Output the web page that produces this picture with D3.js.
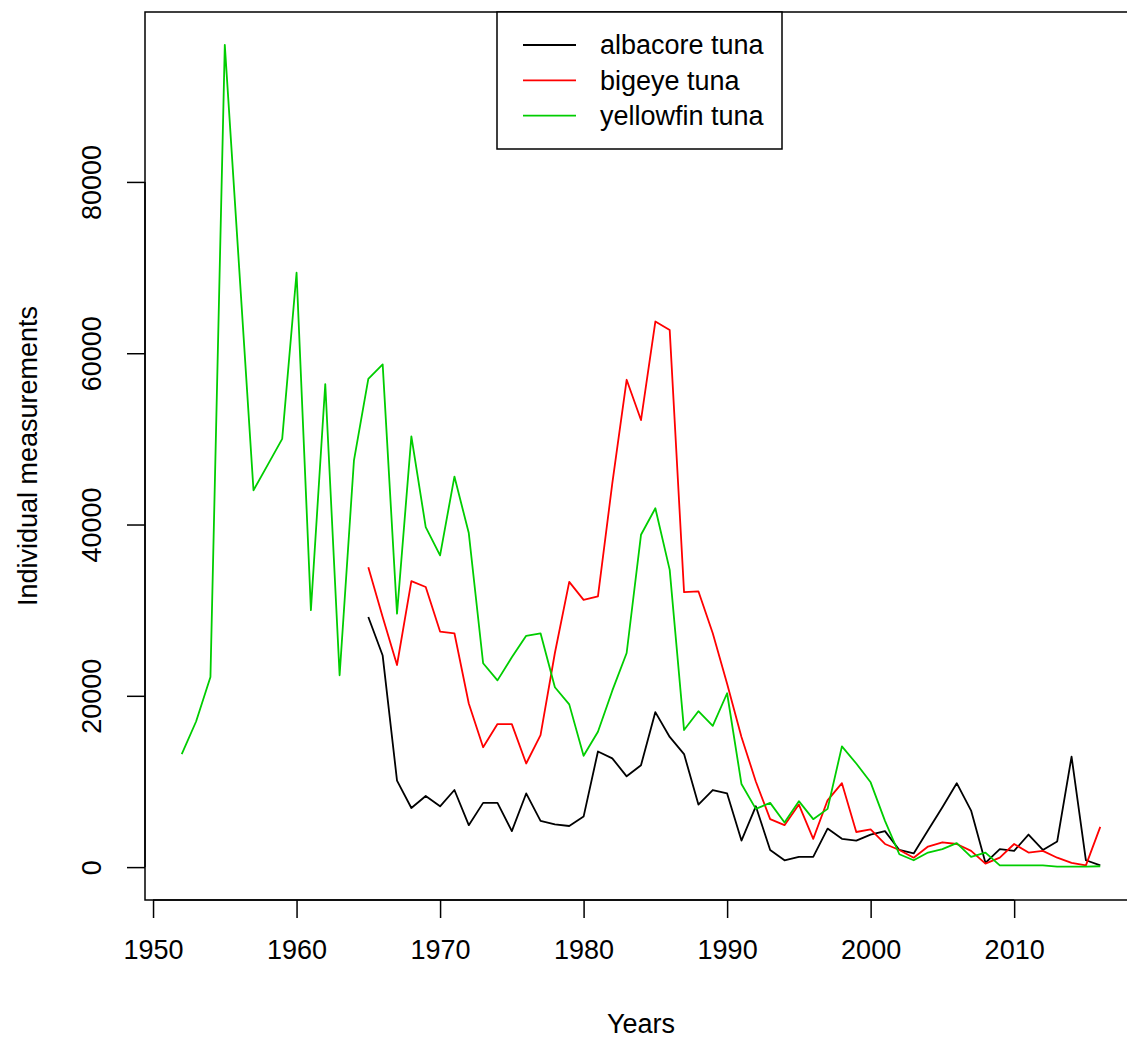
<!DOCTYPE html>
<html>
<head>
<meta charset="utf-8">
<script src="https://cdn.jsdelivr.net/npm/d3@7"></script>
<style>
  html, body { margin: 0; padding: 0; background: #fff; }
  svg { display: block; }
  text { font-family: "Liberation Sans", Arial, sans-serif; fill: #000; }
</style>
</head>
<body>
<div id="chart"></div>
<script>
// Years covered by the measurement series
const years = [
  1952, 1953, 1954, 1955, 1956, 1957, 1958, 1959, 1960, 1961,
  1962, 1963, 1964, 1965, 1966, 1967, 1968, 1969, 1970, 1971,
  1972, 1973, 1974, 1975, 1976, 1977, 1978, 1979, 1980, 1981,
  1982, 1983, 1984, 1985, 1986, 1987, 1988, 1989, 1990, 1991,
  1992, 1993, 1994, 1995, 1996, 1997, 1998, 1999, 2000, 2001,
  2002, 2003, 2004, 2005, 2006, 2007, 2008, 2009, 2010, 2011,
  2012, 2013, 2014, 2015, 2016
];

// Individual measurements per species (null = no data that year)
const albacore = [
  null, null, null, null, null, null, null, null, null, null,
  null, null, null, 29200, 24700, 10100, 6900, 8300, 7100, 9000,
  4900, 7500, 7500, 4200, 8600, 5400, 5000, 4800, 5900, 13500,
  12700, 10600, 11900, 18100, 15200, 13200, 7300, 9000, 8600, 3100,
  7100, 2000, 800, 1200, 1200, 4500, 3300, 3100, 3800, 4200,
  2000, 1600, 4300, 7000, 9800, 6600, 500, 2100, 1900, 3800,
  2000, 3000, 12900, 800, 200
];

const bigeye = [
  null, null, null, null, null, null, null, null, null, null,
  null, null, null, 35000, 29200, 23600, 33400, 32700, 27500, 27300,
  19100, 14000, 16700, 16700, 12100, 15400, 25000, 33300, 31200, 31600,
  44800, 56900, 52200, 63700, 62700, 32100, 32200, 27300, 21400, 15200,
  10000, 5600, 4900, 7300, 3300, 7800, 9800, 4100, 4400, 2700,
  2000, 1100, 2400, 2900, 2700, 1900, 400, 1100, 2700, 1700,
  1900, 1100, 500, 200, 4700
];

const yellowfin = [
  13200, 17000, 22200, 96000, 70000, 44000, 47000, 50000, 69400, 30000,
  56400, 22400, 47500, 57000, 58700, 29600, 50300, 39700, 36400, 45600,
  39000, 23800, 21800, 24500, 27000, 27300, 21000, 19000, 13000, 15800,
  20600, 25000, 38800, 41900, 34700, 16000, 18200, 16500, 20300, 9700,
  6800, 7500, 5200, 7700, 5600, 6800, 14100, 12100, 9900, 5400,
  1500, 800, 1700, 2100, 2800, 1200, 1700, 200, 200, 200,
  200, 50, 50, 50, 100
];

const seriesNames = ["albacore tuna", "bigeye tuna", "yellowfin tuna"];
const seriesColors = ["#000000", "#ff0000", "#00cd00"];
const xTicks = [1950, 1960, 1970, 1980, 1990, 2000, 2010];
const yTicks = [0, 20000, 40000, 60000, 80000];

const series = [albacore, bigeye, yellowfin].map((vals, i) => ({
  name: seriesNames[i],
  color: seriesColors[i],
  points: years.map((y, j) => ({ year: y, value: vals[j] }))
}));

const W = 1127, H = 1038;
const plot = { left: 145, top: 12, right: 1137, bottom: 900 };

// Axis limits padded by 4% on both ends of the data range
const xMin = d3.min(years), xMax = d3.max(years);
const xPad = (xMax - xMin) * 0.04;
const allVals = [albacore, bigeye, yellowfin].flat().filter(v => v != null);
const yMin = 0, yMax = d3.max(allVals);
const yPad = (yMax - yMin) * 0.04;

const x = d3.scaleLinear().domain([xMin - xPad, xMax + xPad]).range([plot.left, plot.right]);
const y = d3.scaleLinear().domain([yMin - yPad, yMax + yPad]).range([plot.bottom, plot.top]);

const svg = d3.select("#chart").append("svg")
  .attr("width", W).attr("height", H);

const fontSize = 27;

// Series lines
const line = d3.line()
  .defined(d => d.value != null)
  .x(d => x(d.year))
  .y(d => y(d.value));

svg.append("g").selectAll("path")
  .data(series)
  .join("path")
  .attr("fill", "none")
  .attr("stroke", d => d.color)
  .attr("stroke-width", 1.8)
  .attr("stroke-linejoin", "round")
  .attr("d", d => line(d.points));

// X axis
const xAxis = svg.append("g")
  .attr("transform", `translate(0,${plot.bottom})`)
  .call(d3.axisBottom(x).tickValues(xTicks).tickFormat(d3.format("d")).tickSize(18).tickPadding(22));
xAxis.select(".domain")
  .attr("d", `M${x(xTicks[0])},0H${x(xTicks[xTicks.length - 1])}`)
  .attr("stroke-width", 1.5);
xAxis.selectAll(".tick line").attr("stroke-width", 1.5);
xAxis.selectAll(".tick text")
  .attr("font-size", fontSize)
  .attr("font-family", "Liberation Sans, Arial, sans-serif")
  .attr("fill", "#000");

// Y axis with labels turned parallel to the axis
const yAxis = svg.append("g")
  .attr("transform", `translate(${plot.left},0)`)
  .call(d3.axisLeft(y).tickValues(yTicks).tickFormat(d3.format("d")).tickSize(18));
yAxis.select(".domain")
  .attr("d", `M0,${y(yTicks[0])}V${y(yTicks[yTicks.length - 1])}`)
  .attr("stroke-width", 1.5);
yAxis.selectAll(".tick line").attr("stroke-width", 1.5);
yAxis.selectAll(".tick text")
  .attr("font-size", fontSize)
  .attr("font-family", "Liberation Sans, Arial, sans-serif")
  .attr("fill", "#000")
  .attr("x", null).attr("dy", null)
  .attr("text-anchor", "middle")
  .attr("transform", "translate(-44,0) rotate(-90)");

// Plot frame
svg.append("rect")
  .attr("x", plot.left).attr("y", plot.top)
  .attr("width", plot.right - plot.left).attr("height", plot.bottom - plot.top)
  .attr("fill", "none").attr("stroke", "#000").attr("stroke-width", 1.5);

// Axis titles
svg.append("text")
  .attr("x", (plot.left + plot.right) / 2).attr("y", 1033)
  .attr("text-anchor", "middle").attr("font-size", fontSize)
  .text("Years");

svg.append("text")
  .attr("transform", `translate(37,${(plot.top + plot.bottom) / 2}) rotate(-90)`)
  .attr("text-anchor", "middle").attr("font-size", fontSize)
  .text("Individual measurements");

// Legend
const legend = svg.append("g");
legend.append("rect")
  .attr("x", 497).attr("y", plot.top)
  .attr("width", 285).attr("height", 137)
  .attr("fill", "#fff").attr("stroke", "#000").attr("stroke-width", 1.5);

const rows = legend.selectAll("g.row")
  .data(series)
  .join("g")
  .attr("class", "row")
  .attr("transform", (d, i) => `translate(0,${45 + i * 35.3})`);
rows.append("line")
  .attr("x1", 523).attr("x2", 576)
  .attr("y1", 0).attr("y2", 0)
  .attr("stroke", d => d.color).attr("stroke-width", 1.8);
rows.append("text")
  .attr("x", 600).attr("y", 0).attr("dy", "0.35em")
  .attr("font-size", fontSize)
  .text(d => d.name);
</script>
</body>
</html>
